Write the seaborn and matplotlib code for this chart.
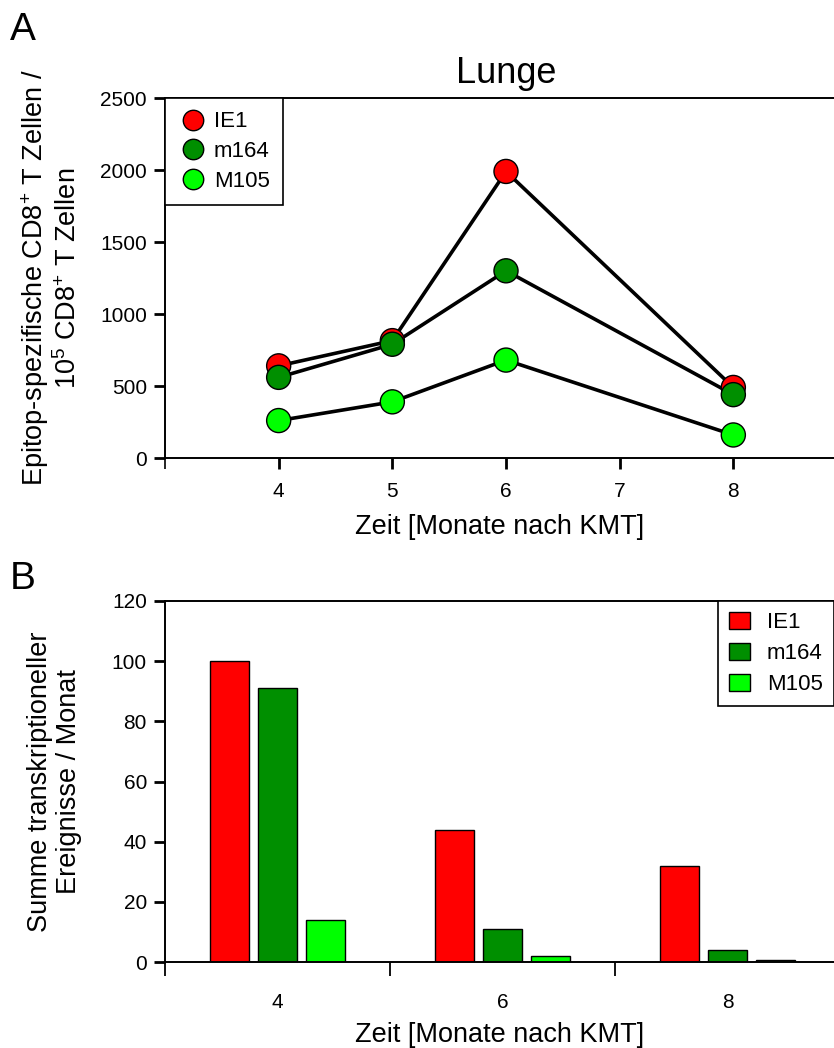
import numpy as np
import pandas as pd
import matplotlib
matplotlib.use("Agg")
import matplotlib.pyplot as plt
from matplotlib.ticker import FixedLocator
import seaborn as sns

# ---------------- data ----------------
months_a = [4, 5, 6, 8]
ie1_a = [640, 815, 1990, 490]
m164_a = [560, 790, 1300, 440]
m105_a = [260, 390, 680, 160]

months_b = ["4", "6", "8"]
ie1_b = [100, 44, 32]
m164_b = [91, 11, 4]
m105_b = [14, 2, 0.5]

series = ["IE1", "m164", "M105"]
colors = ["#FF0000", "#008F00", "#00FF00"]

# ---------------- style ----------------
sns.set_theme(style="ticks")
plt.rcParams["font.family"] = ["Liberation Sans", "DejaVu Sans"]
plt.rcParams["mathtext.fontset"] = "custom"
plt.rcParams["mathtext.rm"] = "Liberation Sans"
plt.rcParams["mathtext.it"] = "Liberation Sans:italic"
plt.rcParams["mathtext.bf"] = "Liberation Sans:bold"
plt.rcParams["axes.linewidth"] = 1.4
for k in ["text.color", "axes.labelcolor", "xtick.color", "ytick.color", "axes.edgecolor"]:
    plt.rcParams[k] = "black"

W, H = 834, 1048
fig = plt.figure(figsize=(W / 100, H / 100), dpi=100)


def pos(l, t, r, b):
    return [l / W, 1 - b / H, (r - l) / W, (b - t) / H]


TICK_FS = 15
LAB_FS = 19.5
LEG_FS = 16

# ---------------- panel A ----------------
axA = fig.add_axes(pos(165, 98, 847, 458))
dfA = pd.DataFrame({
    "Monat": months_a * 3,
    "Wert": ie1_a + m164_a + m105_a,
    "Epitop": sum([[s] * len(months_a) for s in series], []),
})
sns.lineplot(data=dfA, x="Monat", y="Wert", units="Epitop", estimator=None,
             color="black", linewidth=2.6, ax=axA, legend=False, zorder=2)
sns.scatterplot(data=dfA, x="Monat", y="Wert", hue="Epitop", hue_order=series,
                palette=colors, s=300, edgecolor="black", linewidth=1,
                ax=axA, zorder=3)
axA.set_xlim(3, 9)
axA.set_ylim(0, 2500)
axA.set_xticks([4, 5, 6, 7, 8])
axA.xaxis.set_minor_locator(FixedLocator([3]))
axA.set_yticks([0, 500, 1000, 1500, 2000, 2500])
axA.spines["right"].set_visible(False)
axA.tick_params(axis="both", which="major", direction="out", length=8, width=2,
                labelsize=TICK_FS, color="black")
axA.tick_params(axis="x", which="major", pad=9)
axA.tick_params(axis="x", which="minor", direction="out", length=8, width=1.2)
axA.tick_params(axis="y", pad=5)
axA.set_title("Lunge", fontsize=26, pad=11)
axA.set_xlabel("Zeit [Monate nach KMT]", fontsize=LAB_FS)
axA.set_ylabel("Epitop-spezifische CD8$^{+}$ T Zellen /\n10$^{5}$ CD8$^{+}$ T Zellen",
               fontsize=LAB_FS, linespacing=1.15)
axA.xaxis.set_label_coords((500 - 165) / 682, (458 - 514) / 360)
axA.xaxis.label.set_va("top")
axA.yaxis.set_label_coords((82 - 165) / 682, 0.5)
h, l = axA.get_legend_handles_labels()
legA = axA.legend(h, l, loc="upper left", bbox_to_anchor=(0, 1), borderaxespad=0,
                  frameon=True, fancybox=False, edgecolor="black", framealpha=1,
                  fontsize=LEG_FS, handletextpad=0.3, markerscale=0.85,
                  borderpad=0.6, labelspacing=0.4, handlelength=1.3)
legA.get_frame().set_linewidth(1.2)

# ---------------- panel B ----------------
axB = fig.add_axes(pos(165, 601, 840, 962))
dfB = pd.DataFrame({
    "Monat": months_b * 3,
    "Wert": ie1_b + m164_b + m105_b,
    "Epitop": sum([[s] * len(months_b) for s in series], []),
})
sns.barplot(data=dfB, x="Monat", y="Wert", hue="Epitop", hue_order=series,
            order=months_b, palette=colors, saturation=1, errorbar=None,
            width=0.64, gap=0.2, edgecolor="black", linewidth=1, ax=axB)
axB.set_xlim(-0.5, 2.5)
axB.set_ylim(0, 120)
axB.set_yticks([0, 20, 40, 60, 80, 100, 120])
axB.xaxis.set_minor_locator(FixedLocator([-0.5, 0.5, 1.5]))
axB.spines["right"].set_visible(False)
axB.tick_params(axis="y", direction="out", length=8, width=2, labelsize=TICK_FS, pad=5)
axB.tick_params(axis="x", which="major", length=0, labelsize=TICK_FS, pad=22)
axB.tick_params(axis="x", which="minor", direction="out", length=10, width=1.3)
axB.set_xlabel("Zeit [Monate nach KMT]", fontsize=LAB_FS)
axB.set_ylabel("Summe transkriptioneller\nEreignisse / Monat", fontsize=LAB_FS,
               linespacing=1.15)
axB.xaxis.set_label_coords((500 - 165) / 675, (962 - 1022) / 361)
axB.xaxis.label.set_va("top")
axB.yaxis.set_label_coords((82 - 165) / 675, 0.5)
h, l = axB.get_legend_handles_labels()
legB = axB.legend(h, l, loc="upper right", bbox_to_anchor=((834 - 165) / 675, 1),
                  borderaxespad=0, frameon=True, fancybox=False, edgecolor="black",
                  framealpha=1, fontsize=LEG_FS, handletextpad=0.75, handlelength=0.95,
                  handleheight=0.75, borderpad=0.5, labelspacing=0.45)
legB.get_frame().set_linewidth(1.2)

# ---------------- panel letters ----------------
fig.text(10 / W, 1 - 12 / H, "A", fontsize=28, va="top", ha="left")
fig.text(10 / W, 1 - 561 / H, "B", fontsize=28, va="top", ha="left")

fig.savefig("out.png", dpi=100)
